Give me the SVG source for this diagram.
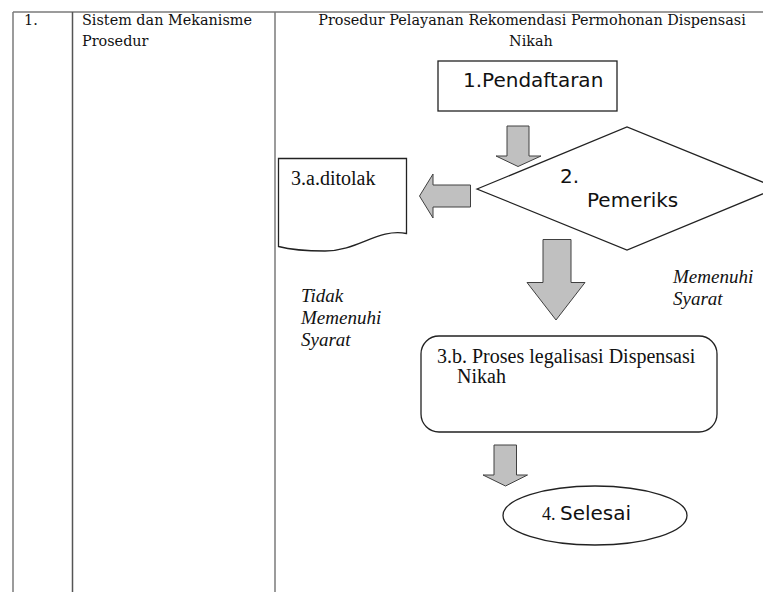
<svg xmlns="http://www.w3.org/2000/svg" width="763" height="592" viewBox="0 0 763 592">
<style>
.grid{stroke:#7a7a7a;stroke-width:1.5;fill:none}
.hdr{font-family:"DejaVu Serif",serif;font-size:14.4px;fill:#111}
.sans{font-family:"DejaVu Sans",sans-serif;font-size:20px;fill:#111}
.serif{font-family:"Liberation Serif",serif;font-size:20px;fill:#111}
.ital{font-family:"Liberation Serif",serif;font-size:19px;font-style:italic;fill:#111}
.shape{fill:#fff;stroke:#222;stroke-width:1.3}
.arrow{fill:#c0c0c0;stroke:#404040;stroke-width:1}
</style>
<rect width="763" height="592" fill="#fff"/>
<g id="table">
<line class="grid" x1="13" y1="12" x2="763" y2="12"/>
<line class="grid" x1="13" y1="12" x2="13" y2="592"/>
<line class="grid" x1="72.5" y1="12" x2="72.5" y2="592" style="stroke:#555"/>
<line class="grid" x1="275" y1="12" x2="275" y2="592"/>
<text class="hdr" x="24" y="25">1.</text>
<text class="hdr" x="82" y="25">Sistem dan Mekanisme</text>
<text class="hdr" x="82" y="46">Prosedur</text>
<text class="hdr" x="532" y="25" text-anchor="middle">Prosedur Pelayanan Rekomendasi Permohonan Dispensasi</text>
<text class="hdr" x="531" y="46" text-anchor="middle">Nikah</text>
</g>
<g id="connectors">
<path class="arrow" d="M507,126 H529 V156 H541 L518,166.5 L496,156 H507 Z"/>
<path class="arrow" d="M470.5,185 V207 H433 V218 L419.5,196 L433,174 V185 Z"/>
<path class="arrow" d="M543,239.5 H571 V282.5 H585 L556,320 L527,282.5 H543 Z"/>
<path class="arrow" d="M494,445 H516.5 V475 H527.5 L505.5,486 L483,475 H494 Z"/>
</g>
<g id="n1">
<rect class="shape" x="438" y="61" width="179" height="50"/>
<text class="sans" x="463" y="87">1.Pendaftaran</text>
</g>
<g id="n2">
<polygon class="shape" points="477,189 627,127 777,188 627,250"/>
<text class="sans" x="560" y="183">2.</text>
<text class="sans" x="587" y="207">Pemeriks</text>
</g>
<g id="n3a">
<path class="shape" d="M278.5,158.5 H406.5 V233.5 C378,228 358,251 325,251 C303,251 290,249.5 278.5,246.5 Z"/>
<text class="serif" x="291" y="185">3.a.ditolak</text>
</g>
<g id="lbl-no">
<text class="ital" x="301" y="302">Tidak</text>
<text class="ital" x="301" y="324">Memenuhi</text>
<text class="ital" x="301" y="346">Syarat</text>
</g>
<g id="lbl-yes">
<text class="ital" x="673" y="283">Memenuhi</text>
<text class="ital" x="673" y="305">Syarat</text>
</g>
<g id="n3b">
<rect class="shape" x="421" y="336" width="296" height="96" rx="18"/>
<text class="serif" x="437" y="363">3.b. Proses legalisasi Dispensasi</text>
<text class="serif" x="457" y="383">Nikah</text>
</g>
<g id="n4">
<ellipse class="shape" cx="595" cy="515.5" rx="92" ry="29.5"/>
<text x="542" y="520"><tspan style="font-family:'Liberation Serif',serif;font-size:18px;fill:#111">4. </tspan><tspan class="sans">Selesai</tspan></text>
</g>
</svg>
